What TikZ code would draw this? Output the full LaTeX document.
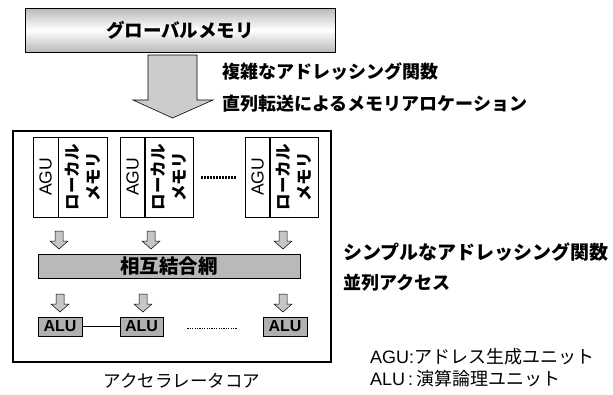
\documentclass[tikz,border=0pt]{standalone}
\usepackage{fontspec}
\setmainfont{Liberation Sans}
\newfontfamily\jp{Noto Sans CJK JP}
\usetikzlibrary{calc}
\tikzset{
  box/.style={draw, line width=0.6pt, inner sep=0pt},
  lbl/.style={inner sep=0pt, anchor=west, font=\jp\bfseries\fontsize{18}{20}\selectfont},
  leg/.style={inner sep=0pt, anchor=west, font=\fontsize{18}{20}\selectfont},
  agutxt/.style={rotate=90, inner sep=0pt, font=\fontsize{17.5}{19}\selectfont},
  memtxt/.style={rotate=90, inner sep=0pt, align=center, font=\jp\bfseries\fontsize{16.5}{21}\selectfont},
  alubox/.style={box, fill=gray!62, minimum height=19pt, font=\bfseries\fontsize{16}{17}\selectfont},
  smallarrow/.pic={\draw[fill=gray!45, line width=0.5pt] (-4,0) -- (4,0) -- (4,10) -- (9,10) -- (0,18) -- (-9,10) -- (-4,10) -- cycle;}
}
\begin{document}
\begin{tikzpicture}[x=1pt,y=-1pt]
\useasboundingbox (0,0) rectangle (613,394);
% global memory
\node[box, line width=0.8pt, minimum width=310pt, minimum height=44pt,
      shading=axis, top color=gray!55, bottom color=gray!55, middle color=white,
      font=\jp\bfseries\fontsize{18.5}{20}\selectfont] (gm) at (180,30) {グローバルメモリ};
% big arrow
\draw[fill=gray!40, line width=0.6pt] (148,55) -- (197,55) -- (197,100) -- (213,100) -- (172.5,118) -- (133,100) -- (148,100) -- cycle;
\node[lbl] (t1) at (222,72) {複雑なアドレッシング関数};
\node[lbl] (t2) at (222,104) {直列転送によるメモリアロケーション};
% accelerator box
\node[draw, line width=1.4pt, minimum width=318pt, minimum height=231pt, inner sep=0pt] (acc) at (172,246.5) {};
% modules
\foreach \n/\ax/\mx in {1/45.5/83, 2/132.5/169, 3/257.5/294}{
  \node[box, minimum width=25pt, minimum height=80pt] (a\n) at (\ax,177) {};
  \node[box, minimum width=49pt, minimum height=80pt] (m\n) at (\mx,177) {};
  \node[agutxt] at (a\n) {AGU};
  \node[memtxt] at (m\n) {ローカル\\メモリ};
}
\draw[line width=3pt, dash pattern=on 2pt off 1pt, shorten <=7pt, shorten >=8pt] (m2.east) -- (a3.west);
% arrows row 1
\pic at (59,231) {smallarrow};
\pic at (151,231) {smallarrow};
\pic at (283,231) {smallarrow};
% interconnect
\node[box, fill=gray!55, minimum width=262pt, minimum height=24pt,
      font=\jp\bfseries\fontsize{19.5}{21}\selectfont] (net) at (169,266.5) {相互結合網};
% arrows row 2
\pic at (60,294) {smallarrow};
\pic at (143,294) {smallarrow};
\pic at (283,294) {smallarrow};
% ALUs
\node[alubox, minimum width=44pt] (alu1) at (60,326.5) {ALU};
\node[alubox, minimum width=43pt] (alu2) at (141.5,326.5) {ALU};
\node[alubox, minimum width=44pt] (alu3) at (285,326.5) {ALU};
\draw[line width=0.8pt] (alu1) -- (alu2);
\draw[line width=1.3pt, dash pattern=on 1.2pt off 1.2pt, shorten <=24pt, shorten >=26pt] ($(alu2.east)+(0,2)$) -- ($(alu3.west)+(0,2)$);
% caption
\node[inner sep=0pt, font=\jp\fontsize{17.5}{20}\selectfont] (cap) at (182,381) {アクセラレータコア};
% right labels
\node[lbl, font=\jp\bfseries\fontsize{19}{20}\selectfont] (t3) at (343,252) {シンプルなアドレッシング関数};
\node[lbl] (t4) at (343,283) {並列アクセス};
\node[leg] (l1) at (370,357) {AGU:{\jp アドレス生成ユニット}};
\node[leg] (l2) at (370,379) {ALU\,:\,{\jp 演算論理ユニット}};
\end{tikzpicture}
\end{document}
